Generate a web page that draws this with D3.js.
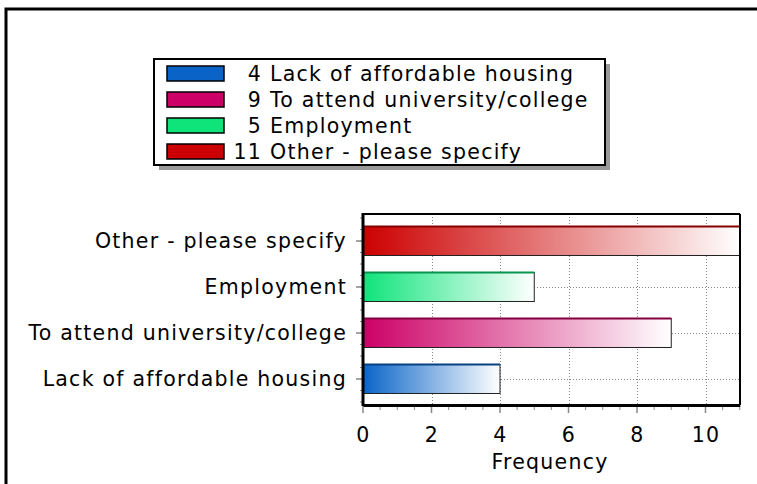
<!DOCTYPE html>
<html>
<head>
<meta charset="utf-8">
<script src="https://cdn.jsdelivr.net/npm/d3@7"></script>
<style>
  html, body { margin: 0; padding: 0; background: #fff; overflow: hidden; }
  svg { display: block; font-family: "DejaVu Sans", Verdana, sans-serif; }
</style>
</head>
<body>
<svg id="chart" width="757" height="484"></svg>
<script>
// Reasons for leaving, counted by response
const categories = ["Lack of affordable housing", "To attend university/college", "Employment", "Other - please specify"];
const counts = [4, 9, 5, 11];
const colors = ["#0a64c8", "#cc0066", "#0ee47a", "#cc0000"];
const xTicks = [0, 2, 4, 6, 8, 10];
const xTitle = "Frequency";

const FS = 20.5;        // text size
const LS = 1.25;        // letter spacing, gives the wide Verdana-like look

const svg = d3.select("#chart");
const defs = svg.append("defs");

// Outer frame: only the top and left edges fall inside the page
svg.append("path")
  .attr("d", "M6,484 V9 H757")
  .attr("fill", "none").attr("stroke", "#000").attr("stroke-width", 3);

// Plot area
const plot = { left: 363, right: 740, top: 214, bottom: 405 };
const x = d3.scaleLinear().domain([0, 11]).range([plot.left, plot.left + 11 * 34.25]);
const y = d3.scaleBand().domain(categories.slice().reverse()).range([218, 402]).paddingInner(0.37).paddingOuter(0.185);

// Gradients: full colour at the axis fading to white
categories.forEach((c, i) => {
  const g = defs.append("linearGradient").attr("id", "grad" + i)
    .attr("x1", "0%").attr("x2", "100%").attr("y1", "0%").attr("y2", "0%");
  g.append("stop").attr("offset", "0%").attr("stop-color", colors[i]);
  g.append("stop").attr("offset", "100%").attr("stop-color", "#fff");
});

// Dotted grid lines
const grid = svg.append("g").attr("stroke", "#888").attr("stroke-width", 1).attr("stroke-dasharray", "1,2");
grid.selectAll("line.v").data(xTicks.filter(d => d > 0)).join("line")
  .attr("x1", d => Math.round(x(d)) + 0.5).attr("x2", d => Math.round(x(d)) + 0.5)
  .attr("y1", plot.top).attr("y2", plot.bottom);
grid.selectAll("line.h").data(categories).join("line")
  .attr("x1", plot.left).attr("x2", plot.right)
  .attr("y1", d => Math.round(y(d) + y.bandwidth() / 2) + 0.5)
  .attr("y2", d => Math.round(y(d) + y.bandwidth() / 2) + 0.5);

// Bars
const bars = svg.append("g");
categories.forEach((c, i) => {
  const y0 = y(c), h = y.bandwidth();
  const w = Math.min(x(counts[i]), plot.right) - x(0);
  bars.append("rect")
    .attr("x", x(0)).attr("y", y0).attr("width", w).attr("height", h)
    .attr("fill", `url(#grad${i})`).attr("stroke", "#222").attr("stroke-width", 1);
  bars.append("line")
    .attr("x1", x(0)).attr("x2", x(0) + w).attr("y1", y0).attr("y2", y0)
    .attr("stroke", d3.color(colors[i]).darker(1.2)).attr("stroke-width", 2);
});

// Plot frame
svg.append("line").attr("x1", plot.left).attr("x2", plot.right).attr("y1", plot.top).attr("y2", plot.top)
  .attr("stroke", "#000").attr("stroke-width", 2);
svg.append("line").attr("x1", plot.right).attr("x2", plot.right).attr("y1", plot.top).attr("y2", plot.bottom)
  .attr("stroke", "#000").attr("stroke-width", 2);

// X axis
const xAxisG = svg.append("g").attr("transform", `translate(0,${plot.bottom})`);
const minorX = d3.range(0, 11.01, 0.5);
xAxisG.selectAll("line.minor").data(minorX).join("line")
  .attr("x1", d => x(d)).attr("x2", d => x(d))
  .attr("y1", 1).attr("y2", d => (d % 2 === 0 ? 8 : 5))
  .attr("stroke", "#888").attr("stroke-width", d => (d % 2 === 0 ? 1.5 : 1));
xAxisG.call(d3.axisBottom(x).tickValues(xTicks).tickSize(0).tickPadding(22))
  .call(g => g.select(".domain").attr("stroke", "#000").attr("stroke-width", 3))
  .call(g => g.selectAll("text").attr("font-size", FS).attr("fill", "#000")
    .attr("font-family", "DejaVu Sans, Verdana, sans-serif").attr("letter-spacing", LS));
svg.append("text").attr("x", 550).attr("y", 469).attr("text-anchor", "middle")
  .attr("font-size", FS).attr("letter-spacing", LS).text(xTitle);

// Y axis
const yAxisG = svg.append("g").attr("transform", `translate(${plot.left},0)`);
const step = y.step();
const minorY = d3.range(0, 17).map(k => 218 + k * step / 4);
yAxisG.selectAll("line.minor").data(minorY.filter(v => v >= plot.top && v <= plot.bottom)).join("line")
  .attr("x1", -3).attr("x2", 0).attr("y1", d => d).attr("y2", d => d)
  .attr("stroke", "#888");
yAxisG.call(d3.axisLeft(y).tickSize(7).tickPadding(9))
  .call(g => g.select(".domain").remove())
  .call(g => g.selectAll(".tick line").attr("stroke", "#888").attr("stroke-width", 1.5))
  .call(g => g.selectAll("text").attr("font-size", FS).attr("fill", "#000")
    .attr("font-family", "DejaVu Sans, Verdana, sans-serif").attr("letter-spacing", LS));
svg.append("line").attr("x1", plot.left).attr("x2", plot.left).attr("y1", plot.top - 1).attr("y2", plot.bottom + 1)
  .attr("stroke", "#000").attr("stroke-width", 3);

// Legend with drop shadow
const legend = { x: 154, y: 59, w: 451, h: 106 };
svg.append("rect").attr("x", legend.x + 5).attr("y", legend.y + 5).attr("width", legend.w).attr("height", legend.h)
  .attr("fill", "#999");
svg.append("rect").attr("x", legend.x).attr("y", legend.y).attr("width", legend.w).attr("height", legend.h)
  .attr("fill", "#fff").attr("stroke", "#000").attr("stroke-width", 2);
const lg = svg.append("g");
categories.forEach((c, i) => {
  const cy = legend.y + 15 + i * 26;
  lg.append("rect").attr("x", 167).attr("y", cy - 8).attr("width", 57).attr("height", 15)
    .attr("fill", colors[i]).attr("stroke", "#000").attr("stroke-width", 1.5);
  lg.append("text").attr("x", 262).attr("y", cy).attr("dy", "0.35em").attr("text-anchor", "end")
    .attr("font-size", FS).attr("letter-spacing", LS).text(counts[i]);
  lg.append("text").attr("x", 270).attr("y", cy).attr("dy", "0.35em")
    .attr("font-size", FS).attr("letter-spacing", LS).text(c);
});
</script>
</body>
</html>
